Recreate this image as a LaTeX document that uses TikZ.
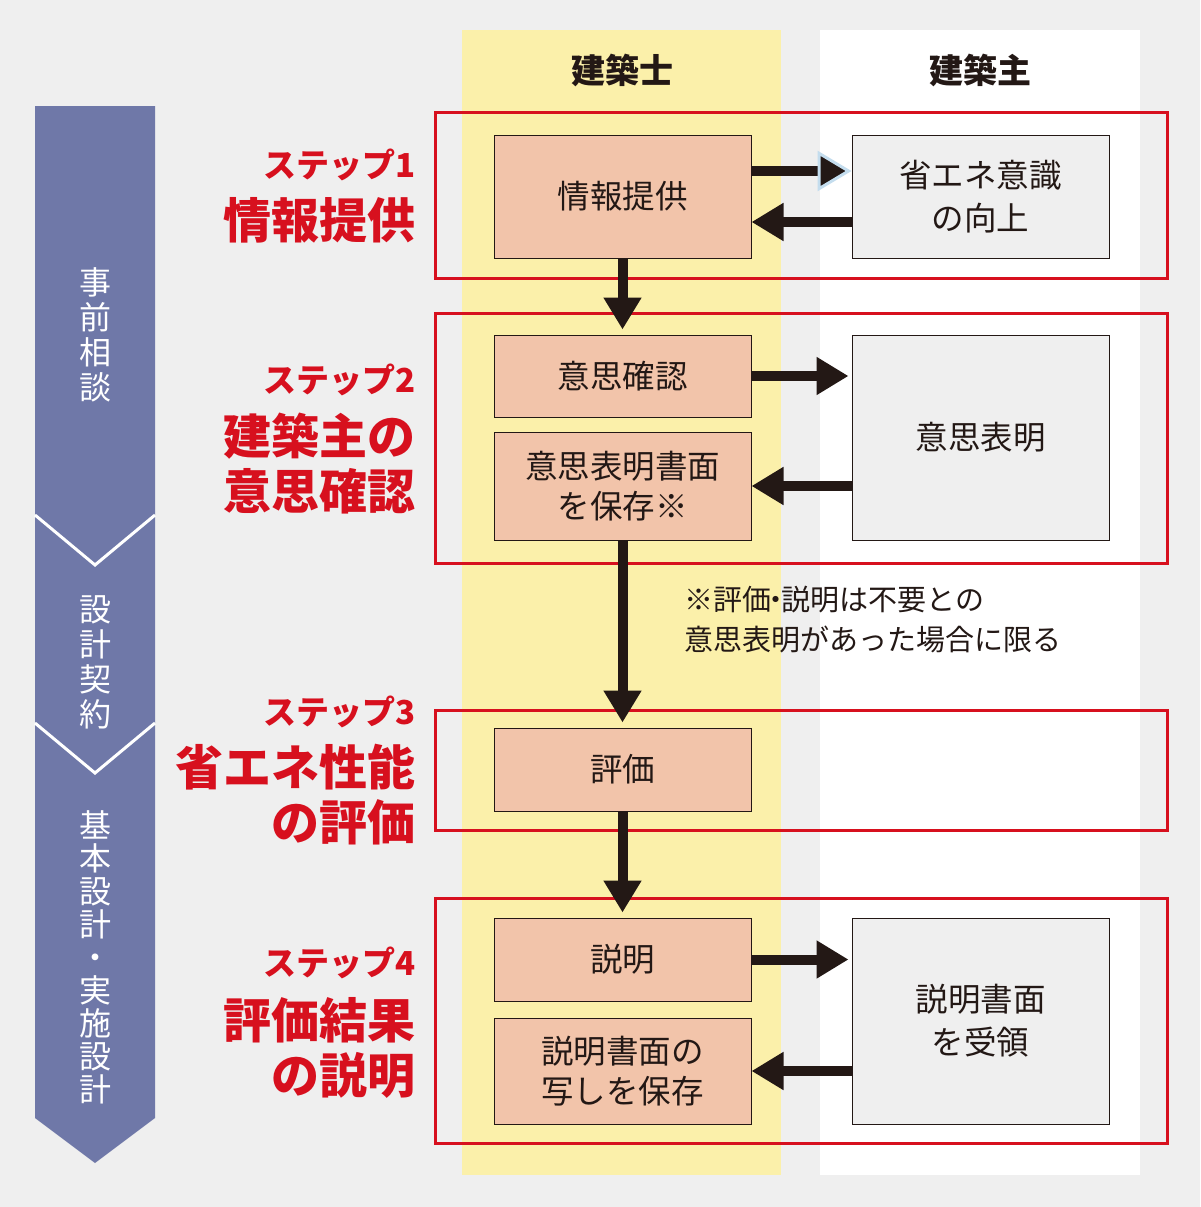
\documentclass[tikz,border=0pt]{standalone}
\usepackage{fontspec}
\setmainfont{Noto Sans CJK JP}
\usetikzlibrary{arrows.meta}
\definecolor{bg}{HTML}{EFEFEF}
\definecolor{colY}{HTML}{FBF0AA}
\definecolor{salmon}{HTML}{F2C4AA}
\definecolor{gbox}{HTML}{EFEFEF}
\definecolor{dark}{HTML}{231815}
\definecolor{redc}{HTML}{D7101E}
\definecolor{band}{HTML}{6F78A8}
\definecolor{bluee}{HTML}{C4DDEE}
\tikzset{
  sbox/.style={draw=dark, fill=salmon, line width=1pt, minimum width=257pt, inner sep=0pt, align=center, font=\fontsize{32.5}{40.5}\selectfont, text=dark},
  gboxs/.style={draw=dark, fill=gbox, line width=1pt, minimum width=257pt, inner sep=0pt, align=center, font=\fontsize{32.5}{43}\selectfont, text=dark},
  arr/.style={draw=dark, line width=10pt, -{Triangle[length=32pt,width=36pt]}},
  redbox/.style={draw=redc, line width=3pt},
  stepsmall/.style={anchor=east, text=redc, font=\fontsize{33}{36}\selectfont\bfseries, inner sep=0pt},
  stepbig/.style={anchor=east, text=redc, align=right, font=\fontsize{48}{55}\selectfont\bfseries, inner sep=0pt},
  bandtext/.style={text=white, align=center, inner sep=0pt, font=\fontsize{32}{35}\selectfont},
  head/.style={text=dark, font=\fontsize{34}{38}\selectfont\bfseries, inner sep=0pt}
}
\begin{document}
\begin{tikzpicture}[x=1pt,y=-1pt]
\useasboundingbox (0,0) rectangle (1200,1207);
\fill[bg] (0,0) rectangle (1200,1207);
% columns
\fill[colY] (462,30) rectangle (781,1175);
\fill[white] (820,30) rectangle (1140,1175);
\node[head] (h1) at (622,70) {建築士};
\node[head] (h2) at (980,70) {建築主};
% left band
\fill[band] (35,106) -- (155,106) -- (155,1118) -- (95,1163) -- (35,1118) -- cycle;
\draw[white, line width=3pt] (35,515) -- (95,565) -- (155,515);
\draw[white, line width=3pt] (35,723) -- (95,773) -- (155,723);
\node[bandtext] (b1) at (95,335) {事\\前\\相\\談};
\node[bandtext] (b2) at (95,662) {設\\計\\契\\約};
\node[bandtext, font=\fontsize{32}{33}\selectfont] (b3) at (95,957) {基\\本\\設\\計\\・\\実\\施\\設\\計};
% red boxes
\draw[redbox] (435,112) rectangle (1167,278);
\draw[redbox] (435,313) rectangle (1167,563);
\draw[redbox] (435,710) rectangle (1167,830);
\draw[redbox] (435,898) rectangle (1167,1143);
% step labels
\node[stepsmall] (s1) at (416,165) {ステップ1};
\node[stepbig] (t1) at (416,220) {情報提供};
\node[stepsmall] (s2) at (416,380) {ステップ2};
\node[stepbig] (t2) at (416,463.5) {建築主の\\意思確認};
\node[stepsmall] (s3) at (416,712) {ステップ3};
\node[stepbig] (t3) at (416,794.5) {省エネ性能\\の評価};
\node[stepsmall] (s4) at (416,963) {ステップ4};
\node[stepbig] (t4) at (416,1047.5) {評価結果\\の説明};
% boxes
\node[sbox, minimum height=123pt] (p1) at (622.5,196.5) {情報提供};
\node[sbox, minimum height=82pt] (p2) at (622.5,376) {意思確認};
\node[sbox, minimum height=108pt] (p3) at (622.5,486) {意思表明書面\\を保存※};
\node[sbox, minimum height=83pt] (p4) at (622.5,769.5) {評価};
\node[sbox, minimum height=83pt] (p5) at (622.5,959.5) {説明};
\node[sbox, minimum height=106pt] (p6) at (622.5,1071) {説明書面の\\写しを保存};
\node[gboxs, minimum height=123pt] (g1) at (980.5,196.5) {省エネ意識\\の向上};
\node[gboxs, minimum height=205pt] (g2) at (980.5,437.5) {意思表明};
\node[gboxs, minimum height=206pt] (g3) at (980.5,1021) {説明書面\\を受領};
% note
\node[anchor=west, align=left, inner sep=0pt, text=dark, font=\fontsize{29}{40}\selectfont] (note) at (684,620) {※評価\kern-0.32em・\kern-0.32em説明は不要との\\意思表明があった場合に限る};
% arrows
\draw[draw=dark, line width=10pt, -{Triangle[length=34pt,width=40pt,line width=3pt,color=bluee,fill=dark]}] ([yshift=25.5pt]p1.east) -- ([yshift=25.5pt]g1.west);
\draw[arr] ([yshift=-25.5pt]g1.west) -- ([yshift=-25.5pt]p1.east);
\draw[arr] (p1.south) -- ([yshift=5pt]p2.north);
\draw[arr] (p2.east) -- ([xshift=-3pt]p2.east -| g2.west);
\draw[arr] (p3.east -| g2.west) -- (p3.east);
\draw[arr] (p3.south) -- ([yshift=5pt]p4.north);
\draw[arr] (p4.south) -- ([yshift=5pt]p5.north);
\draw[arr] (p5.east) -- ([xshift=-3pt]p5.east -| g3.west);
\draw[arr] (p6.east -| g3.west) -- (p6.east);
\end{tikzpicture}
\end{document}
